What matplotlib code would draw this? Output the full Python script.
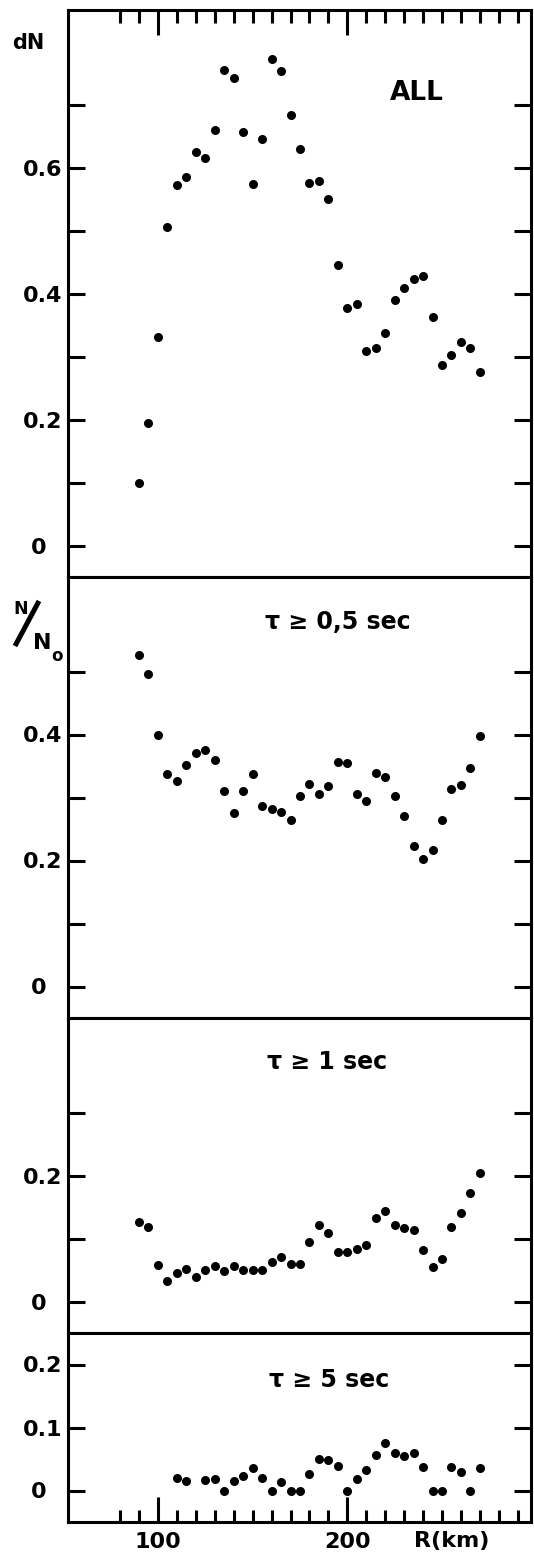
import numpy as np
import matplotlib
matplotlib.use('Agg')
from matplotlib import pyplot as plt
from matplotlib.lines import Line2D

plt.rcParams['font.family'] = ['DejaVu Sans']
plt.rcParams['font.weight'] = 'bold'

# distance R (km)
r = [90, 95, 100, 105, 110, 115, 120, 125, 130, 135, 140, 145, 150, 155,
     160, 165, 170, 175, 180, 185, 190, 195, 200, 205, 210, 215, 220, 225,
     230, 235, 240, 245, 250, 255, 260, 265, 270]

n_all = [0.100, 0.195, 0.331, 0.505, 0.573, 0.585, 0.625, 0.615, 0.659, 0.754,
         0.742, 0.656, 0.574, 0.646, 0.773, 0.753, 0.684, 0.630, 0.576, 0.579,
         0.550, 0.445, 0.377, 0.384, 0.309, 0.314, 0.338, 0.389, 0.408, 0.423,
         0.428, 0.362, 0.286, 0.303, 0.323, 0.314, 0.275]

n_05 = [0.526, 0.496, 0.400, 0.337, 0.326, 0.351, 0.371, 0.376, 0.360, 0.311,
        0.275, 0.310, 0.337, 0.286, 0.281, 0.277, 0.264, 0.302, 0.321, 0.305,
        0.318, 0.356, 0.355, 0.305, 0.295, 0.339, 0.332, 0.302, 0.270, 0.223,
        0.203, 0.217, 0.265, 0.314, 0.320, 0.347, 0.398]

n_1 = [0.126, 0.118, 0.058, 0.032, 0.045, 0.051, 0.039, 0.050, 0.057, 0.048,
       0.056, 0.050, 0.050, 0.050, 0.063, 0.070, 0.060, 0.060, 0.095, 0.121,
       0.108, 0.079, 0.079, 0.084, 0.090, 0.132, 0.143, 0.121, 0.116, 0.113,
       0.081, 0.055, 0.067, 0.118, 0.140, 0.172, 0.204]

r_5 = [110, 115, 125, 130, 135, 140, 145, 150, 155, 160, 165, 170, 175, 180,
       185, 190, 195, 200, 205, 210, 215, 220, 225, 230, 235, 240, 245, 250,
       255, 260, 265, 270]
n_5 = [0.020, 0.015, 0.017, 0.018, 0.000, 0.015, 0.023, 0.036, 0.020, 0.000,
       0.014, 0.000, 0.000, 0.026, 0.050, 0.048, 0.039, 0.000, 0.018, 0.033,
       0.057, 0.075, 0.059, 0.054, 0.060, 0.038, 0.000, 0.000, 0.038, 0.030,
       0.000, 0.036]

panels = [
    (r, n_all, (-0.05, 0.85), [0, 0.1, 0.2, 0.3, 0.4, 0.5, 0.6, 0.7],
     ['0  ', '', '0.2', '', '0.4', '', '0.6', '']),
    (r, n_05, (-0.05, 0.65), [0, 0.1, 0.2, 0.3, 0.4, 0.5],
     ['0  ', '', '0.2', '', '0.4', '']),
    (r, n_1, (-0.05, 0.45), [0, 0.1, 0.2, 0.3],
     ['0  ', '', '0.2', '']),
    (r_5, n_5, (-0.05, 0.25), [0, 0.1, 0.2],
     ['0  ', '0.1', '0.2']),
]

W, H = 534, 1556
fig = plt.figure(figsize=(W / 100, H / 100), dpi=100)
gs = fig.add_gridspec(4, 1, height_ratios=[0.9, 0.7, 0.5, 0.3], hspace=0,
                      left=68 / W, right=531 / W, top=1 - 10 / H, bottom=1 - 1522 / H)

axes = []
for i, (x, y, ylim, yt, ylab) in enumerate(panels):
    ax = fig.add_subplot(gs[i])
    ax.plot(x, y, 'o', color='black', markersize=6.5, markeredgewidth=0)
    ax.set_xlim(52.5, 297)
    ax.set_ylim(*ylim)
    ax.set_yticks(yt)
    ax.set_yticklabels(ylab, fontsize=16, fontweight='bold')
    ax.tick_params(axis='y', which='both', direction='in', left=True, right=True,
                   length=12, width=2.2, pad=4)
    ax.set_xticks([100, 200])
    ax.set_xticks(list(range(80, 300, 10)), minor=True)
    ax.tick_params(axis='x', which='both', bottom=False, top=False,
                   labelbottom=False, labeltop=False)
    for s in ax.spines.values():
        s.set_linewidth(2.2)
    axes.append(ax)

# top ticks on first panel, bottom ticks on last
axes[0].tick_params(axis='x', which='both', top=True, direction='in', width=2.2)
axes[0].tick_params(axis='x', which='major', length=18)
axes[0].tick_params(axis='x', which='minor', length=9)

axb = axes[-1]
axb.tick_params(axis='x', which='both', bottom=True, labelbottom=True,
                direction='in', width=2.2, pad=7)
axb.tick_params(axis='x', which='major', length=18, labelsize=16)
axb.tick_params(axis='x', which='minor', length=9)
axb.set_xticklabels(['100', '200'], fontweight='bold')
fig.text(414 / W, 1 - 1541 / H, 'R(km)', fontsize=16, fontweight='bold',
         ha='left', va='center')

# panel captions
fig.text(390 / W, 1 - 93.5 / H, 'ALL', fontsize=19, fontweight='bold',
         ha='left', va='center')
fig.text(265 / W, 1 - 622 / H, 'τ ≥ 0,5 sec', fontsize=17, fontweight='bold',
         ha='left', va='center')
fig.text(267 / W, 1 - 1062 / H, 'τ ≥ 1 sec', fontsize=17, fontweight='bold',
         ha='left', va='center')
fig.text(269 / W, 1 - 1380 / H, 'τ ≥ 5 sec', fontsize=17, fontweight='bold',
         ha='left', va='center')

# y label pieces
fig.text(28 / W, 1 - 43 / H, 'dN', fontsize=15, fontweight='bold',
         ha='center', va='center')
fig.text(21 / W, 1 - 609 / H, 'N', fontsize=12.5, fontweight='bold',
         ha='center', va='center')
fig.add_artist(Line2D([15 / W, 39 / W], [1 - 646 / H, 1 - 601 / H],
                      transform=fig.transFigure, color='black', linewidth=3.6,
                      solid_capstyle='butt'))
fig.text(42 / W, 1 - 643 / H, 'N', fontsize=16, fontweight='bold',
         ha='center', va='center')
fig.text(57 / W, 1 - 656 / H, 'o', fontsize=12, fontweight='bold',
         ha='center', va='center')

fig.savefig('out.png', dpi=100)
